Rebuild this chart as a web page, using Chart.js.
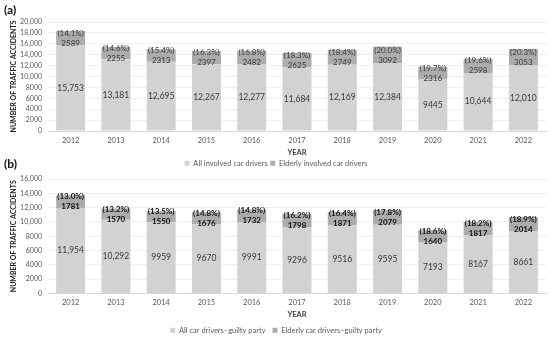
<!DOCTYPE html>
<html>
<head>
<meta charset="utf-8">
<script src="https://cdn.jsdelivr.net/npm/chart.js@4"></script>
<style>
  body { margin: 0; background: #fff; width: 550px; height: 341px; position: relative; overflow: hidden; font-family: Lato, sans-serif; }
  .panel { position: absolute; left: 0; width: 550px; }
  .tag { position: absolute; left: 4px; font: bold 12px Lato, sans-serif; color: #111; z-index: 2; }
</style>
</head>
<body>
<div class="panel" style="top:0;height:168px"><canvas id="chartA"></canvas></div>
<div class="panel" style="top:168px;height:173px"><canvas id="chartB"></canvas></div>
<div class="tag" style="top:2px">(a)</div>
<div class="tag" style="top:156px">(b)</div>
<script>
const years = ['2012', '2013', '2014', '2015', '2016', '2017', '2018', '2019', '2020', '2021', '2022'];

// (a) involved drivers
const involvedAll = [15753, 13181, 12695, 12267, 12277, 11684, 12169, 12384, 9445, 10644, 12010];
const involvedElderly = [2589, 2255, 2313, 2397, 2482, 2625, 2749, 3092, 2316, 2598, 3053];
const involvedShare = ['14.1', '14.6', '15.4', '16.3', '16.8', '18.3', '18.4', '20.0', '19.7', '19.6', '20.3'];

// (b) guilty party
const guiltyAll = [11954, 10292, 9959, 9670, 9991, 9296, 9516, 9595, 7193, 8167, 8661];
const guiltyElderly = [1781, 1570, 1550, 1676, 1732, 1798, 1871, 2079, 1640, 1817, 2014];
const guiltyShare = ['13.0', '13.2', '13.5', '14.8', '14.8', '16.2', '16.4', '17.8', '18.6', '18.2', '18.9'];

const FONT = 'Lato, sans-serif';
const baseColor = '#d3d1d1';
const topColor = '#aeabab';

const fmt = (v) => v >= 10000 ? v.toLocaleString('en-US') : String(v);

// Draws the numbers inside each bar segment.
const segmentLabels = {
    id: 'segmentLabels',
    afterDatasetsDraw(chart, args, opts) {
        const ctx = chart.ctx;
        ctx.save();
        ctx.textAlign = 'center';
        ctx.textBaseline = 'middle';
        chart.data.datasets.forEach((ds, di) => {
            const meta = chart.getDatasetMeta(di);
            meta.data.forEach((bar, i) => {
                const mid = (bar.y + bar.base) / 2;
                if (di === 0) {
                    ctx.font = '8.5px ' + FONT;
                    ctx.fillStyle = '#3a3a3a';
                    ctx.fillText(fmt(ds.data[i]), bar.x, mid);
                } else {
                    ctx.font = (opts.bold ? 'bold ' : '') + '8px ' + FONT;
                    ctx.fillStyle = opts.bold ? '#111' : '#3a3a3a';
                    ctx.fillText('(' + opts.share[i] + '%)', bar.x, mid - 5);
                    ctx.fillText(fmt(ds.data[i]), bar.x, mid + 5);
                }
            });
        });
        ctx.restore();
    }
};

const makeChart = (id, allData, elderlyData, share, labels, yMax, pad, legendPad, bold) => {
    return new Chart(document.getElementById(id), {
        type: 'bar',
        data: {
            labels: years,
            datasets: [
                { label: labels[0], data: allData, backgroundColor: baseColor, categoryPercentage: 1, barPercentage: 0.64 },
                { label: labels[1], data: elderlyData, backgroundColor: topColor, categoryPercentage: 1, barPercentage: 0.64 }
            ]
        },
        options: {
            responsive: true,
            maintainAspectRatio: false,
            animation: false,
            layout: { padding: { top: pad[0], right: 4, left: 6, bottom: pad[1] } },
            scales: {
                x: {
                    stacked: true,
                    afterFit: (s) => { s.height = 26; },
                    grid: { display: false, drawTicks: false },
                    border: { color: '#d9d9d9' },
                    ticks: { color: '#595959', font: { family: FONT, size: 7.5 }, padding: 5 },
                    title: { display: true, text: 'YEAR', color: '#404040', font: { family: FONT, size: 7.5, weight: 'bold' }, padding: { top: 0, bottom: 0 } }
                },
                y: {
                    stacked: true,
                    min: 0,
                    max: yMax,
                    afterFit: (s) => { s.width = 42; },
                    grid: { color: '#efefef', drawTicks: false },
                    border: { display: false },
                    ticks: { stepSize: 2000, autoSkip: false, color: '#595959', font: { family: FONT, size: 7 }, padding: 6, callback: (v) => fmt(v) },
                    title: { display: true, text: 'NUMBER OF TRAFFIC ACCIDENTS', color: '#262626', font: { family: FONT, size: 7, weight: 'bold' }, padding: { top: 4, bottom: 0 } }
                }
            },
            plugins: {
                legend: {
                    position: 'bottom',
                    labels: { color: '#595959', font: { family: FONT, size: 7.5 }, boxWidth: 5, boxHeight: 5, padding: legendPad }
                },
                tooltip: { enabled: false },
                segmentLabels: { share: share, bold: bold }
            }
        },
        plugins: [segmentLabels]
    });
};

makeChart('chartA', involvedAll, involvedElderly, involvedShare,
    ['All involved car drivers', 'Elderly involved car drivers'], 20000, [22, -9], 2.5, false);
makeChart('chartB', guiltyAll, guiltyElderly, guiltyShare,
    ['All car drivers\u2013guilty party', 'Elderly car drivers\u2013guilty party'], 16000, [11, -3], 7, true);
</script>
</body>
</html>
